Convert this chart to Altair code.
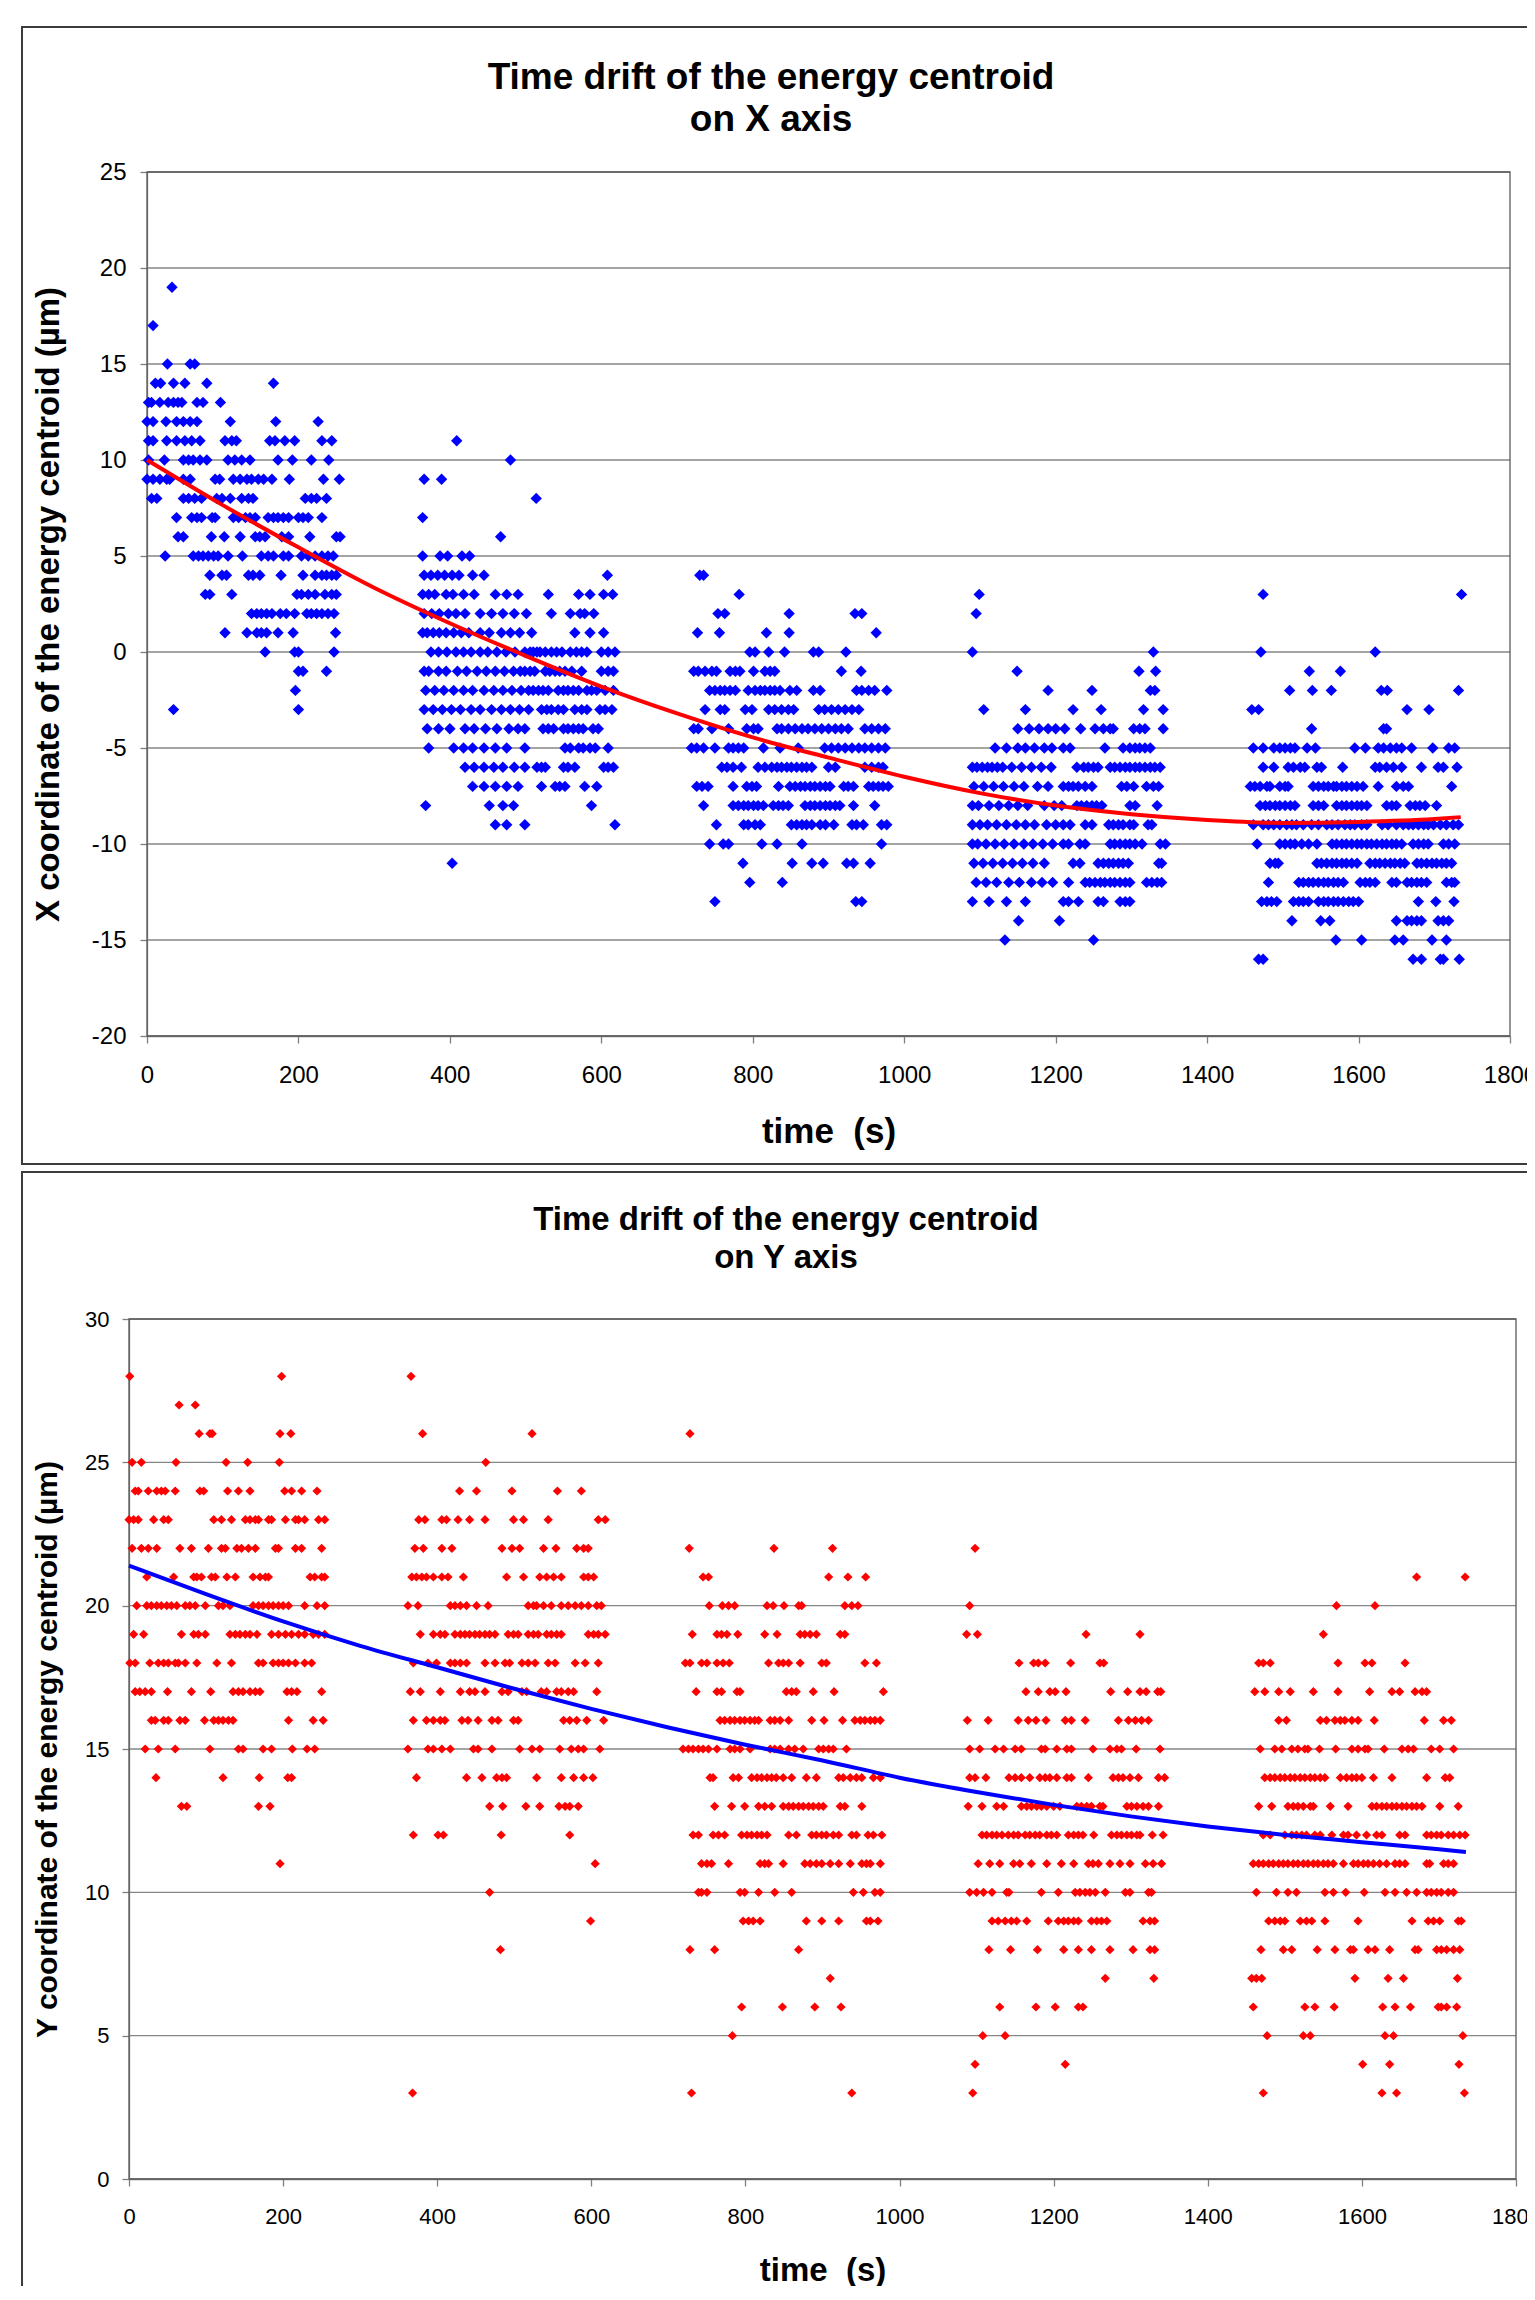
import altair as alt
import pandas as pd

FONT = "Liberation Sans"

# ---------------- X-axis drift (top panel) : value -> list of times (s) ----------------
X_C1 = {
    19: [33], 17: [8], 15: [27, 57, 63],
    14: [11, 18, 35, 50, 79, 167],
    13: [2, 6, 17, 28, 35, 41, 46, 66, 74, 97],
    12: [0, 8, 25, 39, 48, 57, 66, 110, 170, 226],
    11: [2, 8, 26, 39, 50, 59, 70, 103, 112, 118, 162, 169, 182, 195, 231, 244],
    10: [2, 23, 48, 55, 61, 70, 79, 107, 116, 125, 136, 173, 192, 217, 240],
    9: [0, 8, 17, 26, 30, 48, 57, 90, 96, 114, 123, 132, 138, 147, 154, 165, 188, 233, 254],
    8: [6, 13, 48, 55, 63, 72, 92, 99, 110, 125, 134, 140, 209, 217, 224, 237],
    7: [39, 59, 66, 72, 86, 90, 114, 121, 130, 136, 143, 160, 167, 173, 180, 187, 200, 206, 213, 231],
    6: [41, 48, 85, 102, 123, 143, 149, 156, 178, 187, 215, 250, 255],
    5: [24, 61, 68, 74, 81, 88, 94, 107, 126, 151, 160, 167, 180, 187, 204, 213, 222, 231, 239, 246],
    4: [83, 99, 105, 134, 140, 149, 177, 206, 222, 231, 237, 244, 250],
    3: [77, 83, 112, 198, 204, 213, 222, 235, 244, 250],
    2: [138, 145, 151, 158, 165, 176, 184, 195, 211, 217, 224, 231, 239, 247],
    1: [103, 132, 145, 151, 158, 173, 193, 249],
    0: [156, 195, 200, 247], -1: [200, 206, 237], -2: [196], -3: [35, 200],
}
X_C2 = {
    11: [409], 10: [480], 9: [366, 389], 8: [514], 7: [364], 6: [467],
    5: [364, 387, 397, 416, 426],
    4: [366, 375, 384, 393, 403, 412, 430, 445, 608],
    3: [364, 372, 380, 395, 404, 418, 432, 460, 475, 490, 530, 570, 585, 603, 615],
    2: [366, 376, 386, 398, 408, 420, 440, 455, 470, 485, 501, 534, 559, 572, 578, 590],
    1: [364, 370, 378, 386, 395, 405, 415, 425, 440, 452, 468, 480, 492, 508, 565, 585, 603],
    0: [375, 385, 396, 408, 418, 428, 440, 450, 462, 474, 486, 499, 506, 510, 515, 519, 526, 534, 541,
        548, 559, 567, 574, 581, 600, 609, 618],
    -1: [366, 372, 385, 395, 410, 422, 436, 448, 460, 472, 484, 493, 499, 506, 512, 526, 532, 539, 545,
         552, 561, 574, 600, 609, 616],
    -2: [368, 380, 392, 405, 418, 430, 445, 458, 470, 482, 494, 504, 510, 517, 523, 530, 543, 550, 556,
         563, 570, 581, 587, 594, 605, 616],
    -3: [366, 378, 390, 402, 414, 428, 440, 455, 468, 480, 492, 504, 521, 528, 534, 543, 550, 565, 574,
         581, 598, 605, 614],
    -4: [370, 385, 400, 420, 432, 447, 462, 478, 490, 499, 523, 530, 537, 550, 556, 563, 570, 576, 589, 596],
    -5: [372, 405, 418, 430, 445, 460, 475, 499, 552, 559, 570, 576, 585, 592, 609],
    -6: [420, 432, 445, 458, 470, 485, 499, 515, 521, 526, 550, 556, 565, 603, 609, 616],
    -7: [430, 445, 460, 475, 490, 521, 539, 545, 552, 578, 594],
    -8: [368, 452, 470, 484, 587], -9: [460, 475, 499, 618], -11: [403],
}
X_C3 = {
    4: [730, 735], 3: [782], 2: [754, 763, 848, 935, 944], 1: [727, 756, 818, 848, 963],
    0: [796, 803, 821, 842, 880, 887, 923],
    -1: [722, 728, 737, 746, 752, 770, 777, 783, 801, 816, 823, 829, 917, 943],
    -2: [743, 750, 757, 763, 770, 777, 794, 803, 810, 816, 823, 829, 836, 849, 858, 880, 889, 937, 944,
         953, 961, 977],
    -3: [737, 757, 763, 790, 799, 821, 829, 838, 847, 854, 887, 895, 904, 913, 922, 931, 940],
    -4: [722, 728, 746, 768, 792, 801, 807, 832, 838, 847, 856, 865, 873, 882, 891, 900, 909, 917, 926,
         948, 957, 966, 975],
    -5: [719, 726, 735, 750, 768, 774, 781, 788, 814, 836, 860, 895, 904, 913, 922, 931, 940, 948, 957,
         966, 975],
    -6: [759, 766, 774, 785, 807, 816, 825, 832, 838, 845, 851, 858, 865, 871, 878, 900, 909, 948, 957,
         966, 972],
    -7: [726, 733, 741, 774, 792, 799, 805, 834, 849, 856, 863, 869, 876, 882, 889, 896, 902, 920, 926,
         933, 953, 959, 966, 972, 979],
    -8: [735, 774, 781, 788, 794, 801, 807, 814, 827, 834, 840, 847, 869, 876, 882, 889, 896, 902, 909,
         915, 933, 961],
    -9: [752, 788, 794, 803, 810, 851, 858, 865, 871, 878, 889, 896, 907, 931, 937, 946, 970, 977],
    -10: [743, 761, 768, 812, 832, 865, 970],
    -11: [787, 852, 878, 893, 924, 933, 955], -12: [796, 839], -13: [750, 936, 944],
}
X_C4 = {
    3: [1099], 2: [1095], 0: [1090, 1329], -1: [1149, 1310, 1332], -2: [1190, 1248, 1325, 1331],
    -3: [1105, 1160, 1223, 1260, 1316, 1342],
    -4: [1150, 1165, 1178, 1190, 1200, 1212, 1233, 1252, 1263, 1272, 1276, 1303, 1311, 1318, 1342],
    -5: [1120, 1135, 1150, 1160, 1172, 1185, 1195, 1210, 1219, 1265, 1289, 1298, 1305, 1311, 1318, 1325],
    -6: [1090, 1096, 1103, 1110, 1116, 1123, 1130, 1142, 1155, 1168, 1181, 1194, 1228, 1237, 1243, 1250,
         1256, 1272, 1278, 1285, 1292, 1298, 1305, 1311, 1318, 1325, 1331, 1338],
    -7: [1092, 1105, 1118, 1131, 1145, 1158, 1176, 1190, 1210, 1217, 1223, 1230, 1239, 1248, 1287, 1294,
         1303, 1320, 1329, 1336],
    -8: [1090, 1098, 1112, 1125, 1138, 1150, 1163, 1185, 1198, 1208, 1228, 1234, 1241, 1248, 1254, 1261,
         1298, 1305, 1334],
    -9: [1090, 1100, 1110, 1122, 1135, 1148, 1160, 1172, 1188, 1200, 1210, 1219, 1239, 1248, 1270, 1276,
         1283, 1289, 1298, 1303, 1322, 1327],
    -10: [1090, 1097, 1108, 1120, 1132, 1145, 1158, 1170, 1183, 1196, 1210, 1217, 1232, 1239, 1272, 1278,
          1285, 1292, 1298, 1305, 1314, 1338, 1345],
    -11: [1092, 1104, 1117, 1130, 1143, 1156, 1170, 1185, 1223, 1232, 1256, 1263, 1270, 1276, 1283, 1289,
          1296, 1336, 1340],
    -12: [1095, 1108, 1122, 1138, 1152, 1168, 1182, 1196, 1217, 1239, 1245, 1252, 1259, 1265, 1272, 1278,
          1285, 1292, 1298, 1320, 1327, 1334, 1340],
    -13: [1090, 1112, 1135, 1160, 1210, 1217, 1230, 1256, 1263, 1285, 1292, 1298],
    -14: [1151, 1205], -15: [1133, 1250],
}
X_C5 = {
    3: [1474, 1736], 0: [1471, 1622], -1: [1535, 1576], -2: [1509, 1539, 1564, 1630, 1638, 1732],
    -3: [1459, 1468, 1664, 1693], -4: [1538, 1633, 1637],
    -5: [1461, 1474, 1488, 1496, 1503, 1510, 1516, 1532, 1543, 1595, 1609, 1626, 1633, 1642, 1650, 1657,
         1670, 1698, 1719, 1727],
    -6: [1474, 1488, 1507, 1514, 1523, 1529, 1545, 1551, 1579, 1622, 1628, 1637, 1646, 1657, 1683, 1705,
         1712, 1730],
    -7: [1457, 1463, 1470, 1479, 1483, 1496, 1503, 1507, 1540, 1547, 1554, 1560, 1567, 1571, 1578, 1584,
         1591, 1598, 1606, 1626, 1650, 1659, 1666, 1723],
    -8: [1470, 1477, 1483, 1490, 1496, 1503, 1510, 1516, 1540, 1547, 1554, 1571, 1578, 1584, 1591, 1598,
         1604, 1611, 1637, 1644, 1650, 1668, 1675, 1681, 1688, 1703],
    -9: [1461, 1474, 1481, 1488, 1496, 1505, 1512, 1518, 1527, 1538, 1547, 1558, 1565, 1573, 1582, 1589,
         1595, 1604, 1611, 1631, 1639, 1650, 1659, 1666, 1672, 1679, 1686, 1692, 1699, 1708, 1716, 1725, 1732],
    -10: [1466, 1496, 1503, 1510, 1516, 1525, 1534, 1545, 1565, 1571, 1578, 1584, 1591, 1598, 1604, 1611,
          1617, 1624, 1631, 1637, 1644, 1650, 1657, 1672, 1679, 1686, 1692, 1712, 1719, 1727],
    -11: [1483, 1490, 1494, 1545, 1551, 1558, 1565, 1571, 1578, 1584, 1591, 1598, 1615, 1622, 1628, 1635,
          1642, 1648, 1655, 1661, 1677, 1683, 1690, 1697, 1703, 1710, 1716, 1723],
    -12: [1481, 1521, 1527, 1534, 1540, 1547, 1554, 1560, 1567, 1573, 1580, 1602, 1609, 1615, 1622, 1644,
          1650, 1664, 1670, 1677, 1683, 1690, 1716, 1723, 1727],
    -13: [1472, 1479, 1485, 1492, 1514, 1521, 1527, 1534, 1547, 1554, 1560, 1567, 1573, 1580, 1587, 1593,
          1600, 1679, 1702, 1726],
    -14: [1512, 1550, 1562, 1650, 1664, 1670, 1677, 1683, 1705, 1712, 1719],
    -15: [1570, 1604, 1648, 1659, 1697, 1716],
    -16: [1468, 1474, 1672, 1683, 1708, 1712, 1733],
}
X_TREND_T = [0, 100, 200, 300, 400, 500, 600, 700, 800, 900, 1000, 1100, 1200, 1300, 1400, 1500, 1600, 1700, 1735]
X_TREND_V = [10.0, 7.65, 5.45, 3.35, 1.5, -0.2, -1.8, -3.2, -4.45, -5.5, -6.5, -7.35, -8.0, -8.45, -8.75,
             -8.9, -8.85, -8.7, -8.6]

# ---------------- Y-axis drift (bottom panel) ----------------
Y_C1 = {
    28: [1, 198], 27: [65, 86], 26: [91, 105, 108, 196, 210], 25: [4, 16, 61, 126, 154, 195],
    24: [8, 12, 25, 36, 42, 47, 60, 92, 97, 128, 142, 157, 202, 211, 224, 244],
    23: [0, 6, 12, 32, 45, 51, 110, 120, 133, 151, 157, 164, 168, 181, 185, 203, 216, 220, 228, 246, 254],
    22: [4, 16, 25, 36, 66, 81, 103, 120, 125, 140, 146, 155, 164, 190, 194, 216, 224, 250],
    21: [23, 58, 84, 88, 94, 107, 112, 127, 138, 161, 170, 177, 181, 235, 241, 250, 254],
    20: [10, 23, 29, 36, 42, 49, 55, 62, 73, 79, 86, 99, 116, 122, 131, 161, 168, 174, 181, 187, 194, 200,
         207, 228, 244, 254],
    19: [6, 19, 68, 84, 90, 99, 131, 138, 144, 151, 157, 166, 185, 194, 203, 211, 220, 228, 239, 246, 254],
    18: [1, 8, 27, 38, 45, 51, 60, 64, 73, 88, 114, 133, 168, 174, 187, 194, 200, 207, 216, 228, 237],
    17: [8, 14, 21, 29, 50, 81, 106, 135, 142, 148, 157, 164, 170, 205, 211, 218, 250],
    16: [29, 34, 45, 51, 66, 73, 98, 110, 116, 122, 129, 135, 207, 239, 252],
    15: [21, 38, 60, 105, 142, 148, 174, 185, 212, 231, 241],
    14: [35, 122, 169, 206, 211], 13: [68, 75, 168, 183], 11: [196],
}
Y_C2 = {
    28: [366], 26: [381, 523], 25: [463], 24: [429, 451, 497, 556, 587],
    23: [376, 384, 406, 412, 427, 442, 462, 499, 512, 544, 609, 618],
    22: [371, 382, 406, 419, 484, 497, 507, 538, 554, 581, 590, 596],
    21: [367, 373, 380, 386, 395, 406, 414, 434, 490, 512, 533, 542, 551, 561, 590, 596, 603],
    20: [362, 375, 417, 423, 430, 438, 451, 466, 518, 525, 529, 538, 548, 561, 570, 579, 587, 596, 607, 613],
    19: [378, 395, 404, 410, 423, 430, 436, 442, 449, 455, 462, 468, 475, 492, 499, 505, 518, 525, 531,
         542, 548, 555, 561, 596, 603, 609, 618],
    18: [369, 388, 399, 417, 423, 430, 438, 462, 475, 488, 494, 510, 518, 527, 544, 553, 579, 592, 609],
    17: [365, 378, 404, 430, 442, 449, 462, 484, 492, 510, 516, 535, 542, 555, 561, 570, 577, 607],
    16: [369, 386, 395, 404, 410, 432, 440, 453, 471, 479, 499, 505, 564, 572, 581, 594, 616],
    15: [362, 388, 395, 406, 417, 447, 453, 471, 507, 523, 533, 559, 574, 583, 590, 611],
    14: [373, 438, 458, 477, 484, 490, 529, 561, 577, 590, 602],
    13: [468, 485, 515, 533, 558, 566, 572, 583],
    12: [369, 401, 408, 483, 572], 11: [605], 10: [468], 9: [599], 8: [482], 3: [368],
}
Y_C3 = {
    26: [728], 22: [727, 837, 913], 21: [745, 752, 908, 933, 956],
    20: [753, 770, 778, 786, 828, 836, 850, 869, 873, 929, 938, 946],
    19: [731, 763, 769, 776, 790, 825, 841, 871, 877, 884, 892, 923, 929],
    18: [722, 728, 743, 750, 763, 771, 779, 830, 843, 849, 856, 871, 899, 905, 955, 970],
    17: [736, 763, 769, 789, 793, 853, 860, 866, 888, 915, 979],
    16: [767, 773, 780, 786, 793, 799, 806, 812, 817, 832, 838, 845, 856, 886, 902, 926, 942, 949, 955,
         962, 968, 975],
    15: [719, 726, 732, 739, 745, 752, 763, 780, 786, 793, 806, 832, 838, 845, 856, 864, 875, 895, 901,
         908, 914, 931],
    14: [754, 758, 784, 791, 808, 815, 821, 828, 834, 840, 849, 860, 879, 892, 921, 927, 936, 944, 951,
         966, 975],
    13: [760, 782, 799, 817, 825, 834, 849, 856, 862, 869, 875, 882, 888, 895, 901, 923, 929, 951],
    12: [732, 739, 758, 765, 773, 795, 802, 808, 815, 821, 828, 856, 866, 886, 892, 899, 905, 914, 921,
         938, 944, 959, 966, 977],
    11: [743, 750, 756, 778, 819, 825, 830, 849, 877, 884, 892, 899, 910, 921, 936, 951, 957, 962, 975],
    10: [739, 743, 750, 793, 799, 817, 838, 860, 940, 953, 968, 975],
    9: [797, 804, 810, 819, 879, 899, 921, 957, 962, 972],
    8: [728, 760, 869], 7: [910], 6: [795, 848, 890, 924], 5: [783], 3: [730, 938],
}
Y_C4 = {
    22: [1098], 20: [1091], 19: [1087, 1101, 1242, 1312],
    18: [1155, 1174, 1180, 1189, 1222, 1260, 1265],
    17: [1164, 1180, 1195, 1202, 1216, 1274, 1296, 1312, 1320, 1335, 1339],
    16: [1088, 1115, 1154, 1167, 1177, 1190, 1215, 1223, 1241, 1284, 1297, 1306, 1314, 1323],
    15: [1091, 1104, 1124, 1135, 1150, 1158, 1184, 1189, 1204, 1217, 1223, 1251, 1273, 1282, 1288, 1307, 1338],
    14: [1091, 1098, 1112, 1142, 1150, 1158, 1169, 1182, 1189, 1195, 1204, 1217, 1223, 1245, 1277, 1284,
         1290, 1299, 1310, 1336, 1344],
    13: [1089, 1107, 1126, 1135, 1158, 1165, 1171, 1178, 1184, 1191, 1200, 1208, 1230, 1236, 1243, 1249,
         1260, 1264, 1295, 1301, 1308, 1316, 1323, 1336],
    12: [1107, 1113, 1120, 1126, 1133, 1141, 1148, 1154, 1163, 1169, 1176, 1182, 1191, 1197, 1204, 1219,
         1226, 1232, 1238, 1252, 1275, 1282, 1288, 1295, 1301, 1308, 1312, 1328, 1342],
    11: [1102, 1117, 1130, 1148, 1156, 1171, 1191, 1210, 1226, 1245, 1251, 1258, 1273, 1286, 1299, 1319,
         1329, 1340],
    10: [1091, 1100, 1109, 1120, 1139, 1142, 1184, 1206, 1228, 1234, 1241, 1247, 1254, 1267, 1293, 1299,
         1323, 1327],
    9: [1120, 1128, 1137, 1145, 1152, 1165, 1193, 1206, 1213, 1219, 1226, 1232, 1249, 1256, 1262, 1269,
        1316, 1325, 1331],
    8: [1116, 1144, 1179, 1213, 1232, 1249, 1273, 1303, 1325, 1331],
    7: [1267, 1330], 6: [1130, 1177, 1202, 1232, 1238], 5: [1108, 1137], 4: [1098, 1215], 3: [1095],
}
Y_C5 = {
    21: [1671, 1734], 20: [1567, 1617], 19: [1550],
    18: [1466, 1472, 1481, 1569, 1604, 1613, 1656],
    17: [1461, 1474, 1492, 1507, 1537, 1569, 1610, 1639, 1649, 1669, 1678, 1684],
    16: [1492, 1502, 1546, 1554, 1565, 1572, 1578, 1587, 1595, 1616, 1681, 1706, 1716],
    15: [1468, 1487, 1496, 1509, 1517, 1526, 1530, 1545, 1566, 1587, 1595, 1604, 1608, 1629, 1652, 1660,
         1667, 1690, 1701, 1719],
    14: [1474, 1481, 1487, 1494, 1500, 1507, 1513, 1520, 1526, 1533, 1539, 1546, 1552, 1572, 1580, 1587,
         1593, 1600, 1615, 1639, 1684, 1708, 1714],
    13: [1466, 1483, 1504, 1511, 1517, 1524, 1533, 1537, 1559, 1582, 1613, 1619, 1626, 1632, 1639, 1645,
         1652, 1658, 1665, 1671, 1678, 1701, 1725],
    12: [1472, 1481, 1500, 1509, 1515, 1522, 1528, 1539, 1546, 1561, 1576, 1582, 1593, 1606, 1619, 1626,
         1649, 1656, 1684, 1690, 1697, 1703, 1712, 1719, 1727, 1734],
    11: [1459, 1466, 1472, 1479, 1485, 1492, 1498, 1504, 1511, 1517, 1524, 1530, 1537, 1543, 1550, 1556,
         1563, 1576, 1589, 1595, 1602, 1608, 1615, 1623, 1632, 1643, 1649, 1656, 1684, 1688, 1706, 1712, 1719],
    10: [1463, 1489, 1504, 1515, 1552, 1563, 1579, 1603, 1630, 1643, 1658, 1671, 1684, 1690, 1697, 1703,
         1712, 1719],
    9: [1479, 1487, 1494, 1500, 1520, 1528, 1535, 1552, 1595, 1665, 1686, 1693, 1701, 1725, 1729],
    8: [1469, 1498, 1509, 1542, 1565, 1585, 1589, 1608, 1617, 1636, 1669, 1673, 1697, 1703, 1710, 1719, 1727],
    7: [1457, 1463, 1470, 1591, 1634, 1654, 1724],
    6: [1459, 1526, 1539, 1564, 1627, 1643, 1663, 1699, 1703, 1710, 1723],
    5: [1477, 1524, 1533, 1630, 1641, 1731], 4: [1601, 1636, 1726], 3: [1472, 1626, 1645, 1733],
}
Y_TREND_T = [0, 100, 200, 300, 400, 500, 600, 700, 800, 900, 1000, 1100, 1200, 1300, 1400, 1500, 1600, 1700, 1735]
Y_TREND_V = [21.4, 20.4, 19.45, 18.6, 17.85, 17.1, 16.4, 15.75, 15.15, 14.6, 14.0, 13.5, 13.05, 12.65, 12.3,
             12.0, 11.75, 11.5, 11.41]

X_TICKS = list(range(0, 1801, 200))
X_TITLE = "time \u00a0(s)"
GRID = "#868686"
LABEL_EXPR = "'' + datum.value"


def points_frame(clusters):
    rows = []
    for c in clusters:
        for v, ts in c.items():
            for t in ts:
                rows.append({"t": t, "v": v})
    return pd.DataFrame(rows)


def panel(clusters, trend_t, trend_v, pt_color, line_color, ydom, W, H, x0, left, title1, title2,
          title_x, title_y1, title_y2, title_size, ytitle, ytitle_x, yt_size, xt_size, xtitle_y,
          tick_font, xlabel_pad, ylabel_pad, pt_size, frame_top, frame_bottom):
    pts = points_frame(clusters)
    trend = pd.DataFrame({"t": trend_t, "v": trend_v})
    yticks = list(range(ydom[0], ydom[1] + 1, 5))
    xenc = alt.X("t:Q", scale=alt.Scale(domain=[0, 1800], range=[x0, W], nice=False, zero=False),
                 axis=alt.Axis(values=X_TICKS, labelExpr=LABEL_EXPR, title=X_TITLE, grid=False,
                               labelFlush=False, labelOverlap=False, labelFont=FONT,
                               labelFontSize=tick_font, labelColor="black", labelPadding=xlabel_pad,
                               tickSize=7, tickColor="#808080", tickWidth=1.3, domainColor="#808080",
                               domainWidth=1.3, titleFont=FONT, titleFontSize=xt_size,
                               titleFontWeight="bold", titleColor="black", titleY=xtitle_y,
                               titleBaseline="middle"))
    yenc = alt.Y("v:Q", scale=alt.Scale(domain=ydom, nice=False, zero=False),
                 axis=alt.Axis(values=yticks, labelExpr=LABEL_EXPR, title=ytitle, grid=False,
                               offset=-x0, labelFont=FONT,
                               labelFontSize=tick_font, labelColor="black", labelPadding=ylabel_pad,
                               tickSize=7, tickColor="#808080", tickWidth=1.3, domainColor="#808080",
                               domainWidth=1.3, titleFont=FONT, titleFontSize=yt_size,
                               titleFontWeight="bold", titleColor="black", titleX=ytitle_x,
                               titleY=H / 2, titleAngle=270, titleAlign="center",
                               titleBaseline="middle"))
    frame = alt.Chart(pd.DataFrame({"a": [0]})).mark_rect(
        fillOpacity=0, stroke="#3c3c3c", strokeWidth=2
    ).encode(x=alt.value(left), x2=alt.value(W + 60), y=alt.value(frame_top), y2=alt.value(frame_bottom))
    grid = alt.Chart(pd.DataFrame({"v": yticks})).mark_rule(color=GRID, strokeWidth=1.3).encode(
        y="v:Q", x=alt.value(x0), x2=alt.value(W))
    border = alt.Chart(pd.DataFrame({"a": [0]})).mark_rect(
        fillOpacity=0, stroke="#5a5a5a", strokeWidth=1.3
    ).encode(x=alt.value(x0), x2=alt.value(W), y=alt.value(0), y2=alt.value(H))
    dots = alt.Chart(pts).mark_point(shape="diamond", filled=True, color=pt_color, size=pt_size,
                                     opacity=1).encode(x=xenc, y=yenc)
    line = alt.Chart(trend).mark_line(color=line_color, strokeWidth=4, interpolate="monotone").encode(
        x="t:Q", y="v:Q")
    t1 = alt.Chart(pd.DataFrame({"s": [title1]})).mark_text(
        font=FONT, fontSize=title_size, fontWeight="bold", color="black", align="center",
        baseline="middle").encode(x=alt.value(title_x), y=alt.value(title_y1), text="s:N")
    t2 = alt.Chart(pd.DataFrame({"s": [title2]})).mark_text(
        font=FONT, fontSize=title_size, fontWeight="bold", color="black", align="center",
        baseline="middle").encode(x=alt.value(title_x), y=alt.value(title_y2), text="s:N")
    return alt.layer(frame, grid, border, dots, line, t1, t2).properties(width=W, height=H)


# both plot groups start at page x = 129; the top plot area itself starts 18 px further right
top = panel([X_C1, X_C2, X_C3, X_C4, X_C5], X_TREND_T, X_TREND_V, "#0000FF", "#FF0000", [-20, 25],
            1381, 864, 18, -107, "Time drift of the energy centroid", "on X axis",
            642, -94, -52, 37, "X coordinate of the energy centroid (µm)", -99, 33, 35, 95,
            24, 20, 14, 130, -145, 992)

bottom = panel([Y_C1, Y_C2, Y_C3, Y_C4, Y_C5], Y_TREND_T, Y_TREND_V, "#FF0000", "#0000FF", [0, 30],
               1387, 860, 0, -107, "Time drift of the energy centroid", "on Y axis",
               657, -99, -61, 33, "Y coordinate of the energy centroid (µm)", -82, 30, 33, 91,
               22, 20, 13, 85, -147, 1000)

chart = alt.vconcat(top, bottom, spacing=6).properties(
    padding={"left": 13, "top": 18, "right": -50, "bottom": -34}
).configure_view(strokeWidth=0)

chart.save("out.html", embed_options={"renderer": "svg", "actions": False})
